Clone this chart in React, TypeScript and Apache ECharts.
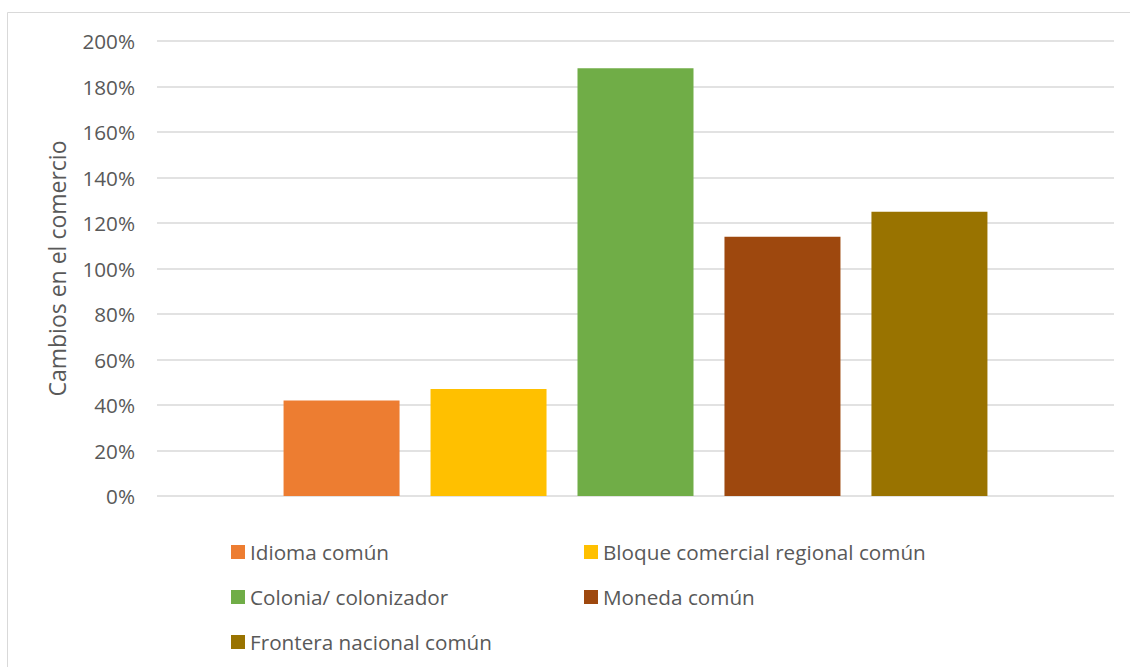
import React, { useEffect, useRef } from "react";
import * as echarts from "echarts";

const categories = ["Cambios"];
const seriesNames = [
  "Idioma común",
  "Bloque comercial regional común",
  "Colonia/ colonizador",
  "Moneda común",
  "Frontera nacional común",
];
const seriesValues = [42, 47, 188, 114, 125];
const seriesColors = ["#ED7D31", "#FFC000", "#70AD47", "#9E480E", "#997300"];
const yTicks = [0, 20, 40, 60, 80, 100, 120, 140, 160, 180, 200];
const yAxisTitle = "Cambios en el comercio";

const FONT = "'Open Sans', 'Noto Sans', sans-serif";
const TEXT = "#595959";

// legend positions: [left, centerY]
const legendPos: [number, number][] = [
  [231, 552],
  [584, 552],
  [231, 597],
  [584, 597],
  [231, 642],
];

export default function App() {
  const ref = useRef<HTMLDivElement>(null);
  useEffect(() => {
    if (!ref.current) return;
    const chart = echarts.init(ref.current, undefined, { renderer: "svg" });
    const option: any = {
      animation: false,
      backgroundColor: "#ffffff",
      textStyle: { fontFamily: FONT },
      graphic: [
        {
          type: "rect",
          shape: { x: 7.5, y: 12.5, width: 1300, height: 1000 },
          style: { fill: "none", stroke: "#d9d9d9", lineWidth: 1 },
          silent: true,
        },
      ],
      grid: { left: 157, right: 16, top: 41, bottom: 171, containLabel: false },
      legend: seriesNames.map((n, i) => ({
        data: [n],
        left: legendPos[i][0],
        top: legendPos[i][1] - 12,
        padding: 0,
        itemWidth: 14,
        itemHeight: 14,
        icon: "rect",
        selectedMode: false,
        textStyle: { color: TEXT, fontSize: 20.7, fontFamily: FONT, lineHeight: 24 },
      })),
      xAxis: {
        type: "category",
        data: categories,
        axisLine: { show: false },
        axisTick: { show: false },
        axisLabel: { show: false },
      },
      yAxis: {
        type: "value",
        min: yTicks[0],
        max: yTicks[yTicks.length - 1],
        interval: yTicks[1] - yTicks[0],
        name: yAxisTitle,
        nameLocation: "middle",
        nameGap: 89,
        nameTextStyle: { color: TEXT, fontSize: 23, fontFamily: FONT },
        axisLine: { show: false },
        axisTick: { show: false },
        axisLabel: {
          color: TEXT,
          fontSize: 20.7,
          fontFamily: FONT,
          margin: 22,
          formatter: (v: number) => `${v}%`,
        },
        splitLine: { lineStyle: { color: "#d9d9d9", width: 1.5 } },
      },
      series: seriesNames.map((n, i) => ({
        name: n,
        type: "bar",
        barWidth: 116,
        barGap: "26.7%",
        itemStyle: { color: seriesColors[i] },
        data: [seriesValues[i]],
      })),
    };
    chart.setOption(option);
    return () => chart.dispose();
  }, []);
  return (
    <div
      ref={ref}
      style={{ position: "fixed", left: 0, top: 0, width: 1130, height: 667 }}
    />
  );
}
